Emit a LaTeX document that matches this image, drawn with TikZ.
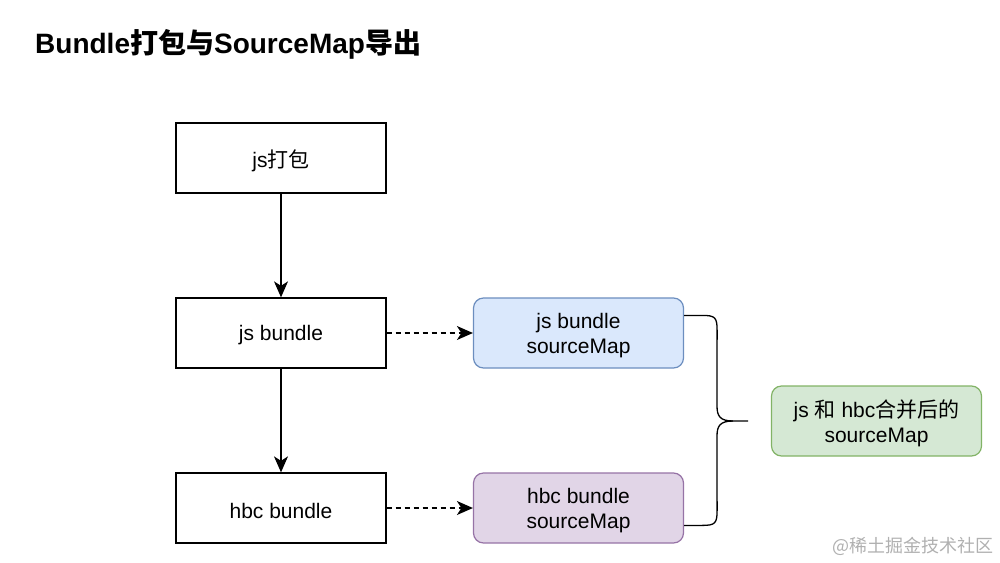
\documentclass[tikz,border=0pt]{standalone}
\usepackage{fontspec}
\setmainfont{Liberation Sans}
\newfontfamily\cjk{Noto Sans CJK SC}
\usetikzlibrary{arrows.meta,calc}
\definecolor{bluefill}{HTML}{DAE8FC}
\definecolor{blueline}{HTML}{6C8EBF}
\definecolor{purpfill}{HTML}{E1D5E7}
\definecolor{purpline}{HTML}{9673A6}
\definecolor{greenfill}{HTML}{D5E8D4}
\definecolor{greenline}{HTML}{82B366}
\definecolor{wmark}{HTML}{B0B0B0}
\tikzset{
  lbl/.style={align=center, yshift=-2.5pt, inner sep=0pt, font=\fontsize{21}{24.5}\selectfont},
  plainbox/.style={draw=black, line width=1.3pt, fill=white, minimum width=210pt, minimum height=70pt, inner sep=0pt},
  roundbox/.style={plainbox, rounded corners=10pt, line width=1.2pt},
  solidarrow/.style={line width=1.4pt, -{Stealth[length=16pt,width=14pt,inset=4.5pt]}},
  dasharrow/.style={line width=1.3pt, dash pattern=on 5pt off 4pt, -{Stealth[length=16pt,width=14pt,inset=4.5pt]}},
}
\begin{document}
\begin{tikzpicture}[x=1pt,y=-1pt]
\useasboundingbox (0,0) rectangle (1000,562);
\node[anchor=west, font=\fontsize{28}{32}\selectfont\bfseries, inner sep=0pt] (title) at (35,44) {Bundle{\cjk\bfseries 打包与}SourceMap{\cjk\bfseries 导出}};

\node[plainbox, label={[lbl]center:js{\cjk 打包}}] (pack) at (281,158) {};
\node[plainbox, label={[lbl]center:js bundle}] (jsb) at (281,333) {};
\node[plainbox, label={[lbl]center:hbc bundle}] (hbc) at (281,508) {};
\node[roundbox, fill=bluefill, draw=blueline, label={[lbl]center:js bundle\\sourceMap}] (jsmap) at (578.5,333) {};
\node[roundbox, fill=purpfill, draw=purpline, label={[lbl]center:hbc bundle\\sourceMap}] (hbcmap) at (578.5,508) {};
\node[roundbox, fill=greenfill, draw=greenline, label={[lbl]center:js {\cjk 和} hbc{\cjk 合并后的}\\sourceMap}] (merged) at (876.5,421) {};

\draw[solidarrow] (pack.south) -- (jsb.north);
\draw[solidarrow] (jsb.south) -- (hbc.north);
\draw[dasharrow] (jsb.east) -- (jsmap.west);
\draw[dasharrow] (hbc.east) -- (hbcmap.west);

\coordinate (btop) at ($(jsmap.north east)+(0,18)$);
\coordinate (bbot) at ($(hbcmap.north east)+(0,53)$);
\coordinate (btip) at (748,421);
\draw[line width=1.3pt, line join=round] (btop) -- ++(18,0)
  .. controls +(13,0) and +(0,-13) .. ++(15,15) -- (717,406)
  .. controls (717,416) and (720,421) .. (733,421) -- (btip);
\draw[line width=1.3pt, line join=round] (bbot) -- ++(18,0)
  .. controls +(13,0) and +(0,13) .. ++(15,-15) -- (717,436)
  .. controls (717,426) and (720,421) .. (733,421);

\node[anchor=east, text=wmark, font=\cjk\fontsize{18}{20}\selectfont, inner sep=0pt] (wm) at (994,546) {@稀土掘金技术社区};
\end{tikzpicture}
\end{document}
